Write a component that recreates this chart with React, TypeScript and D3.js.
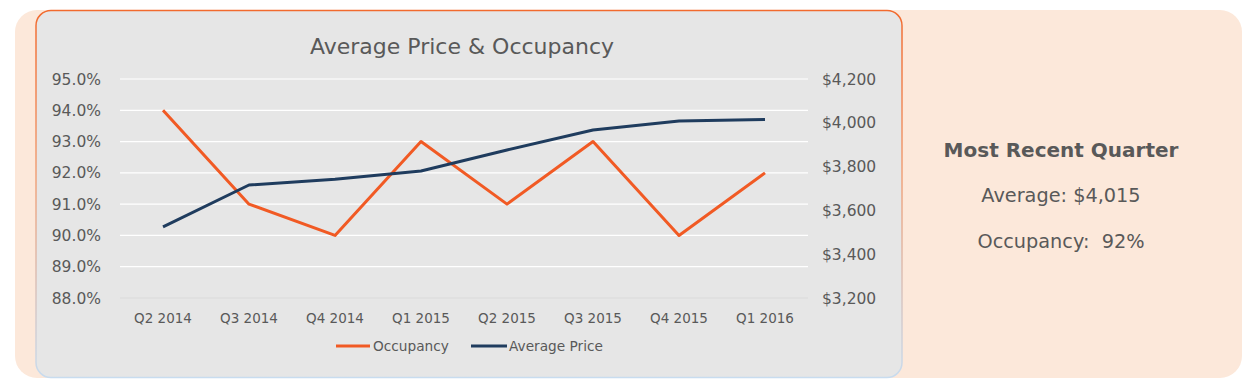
import React from "react";
import * as d3 from "d3";

const quarters = ["Q2 2014", "Q3 2014", "Q4 2014", "Q1 2015", "Q2 2015", "Q3 2015", "Q4 2015", "Q1 2016"];
const occupancy = [94, 91, 90, 93, 91, 93, 90, 92];
const avgPrice = [3525, 3716, 3742, 3780, 3876, 3967, 4008, 4015];
const occTicks = [88, 89, 90, 91, 92, 93, 94, 95];
const priceTicks = [3200, 3400, 3600, 3800, 4000, 4200];

const FONT = "'DejaVu Sans', sans-serif";
const TXT = "#595959";
const ORANGE = "#f15a24";
const NAVY = "#1f3c5e";

export default function App() {
  const left = 120, right = 808, top = 79, bottom = 298;
  const x = d3.scaleBand<string>().domain(quarters).range([left, right]).padding(0);
  const yL = d3.scaleLinear().domain([88, 95]).range([bottom, top]);
  const yR = d3.scaleLinear().domain([3200, 4200]).range([bottom, top]);
  const cx = (q: string) => (x(q) as number) + x.bandwidth() / 2;
  const occLine = d3.line<number>().x((_, i) => cx(quarters[i])).y((d) => yL(d));
  const priceLine = d3.line<number>().x((_, i) => cx(quarters[i])).y((d) => yR(d));

  return (
    <svg width={1260} height={392} style={{ position: "absolute", left: 0, top: 0 }} fontFamily={FONT}>
      <defs>
        <linearGradient id="bord" x1="0" y1="0" x2="0" y2="1">
          <stop offset="0%" stopColor="#f26a2e" />
          <stop offset="45%" stopColor="#f0a27a" />
          <stop offset="100%" stopColor="#c8dcef" />
        </linearGradient>
      </defs>
      <rect x={15} y={10} width={1227} height={368} rx={22} fill="#fce8da" />
      <rect x={36} y={10.5} width={866} height={367} rx={15} fill="#e6e6e6" stroke="url(#bord)" strokeWidth={1.5} />
      <text x={462} y={53.5} textAnchor="middle" fontSize={22} fill={TXT}>Average Price &amp; Occupancy</text>
      {occTicks.map((t) => (
        <g key={t}>
          <line x1={left} x2={right} y1={yL(t)} y2={yL(t)} stroke={t === 88 ? "#d9d9d9" : "#ffffff"} strokeWidth={1.2} />
          <text x={101} y={yL(t) + 5.5} textAnchor="end" fontSize={15.5} fill={TXT}>{t.toFixed(1) + "%"}</text>
        </g>
      ))}
      {priceTicks.map((t) => (
        <text key={t} x={822} y={yR(t) + 5.5} fontSize={15.5} fill={TXT}>{d3.format("$,")(t)}</text>
      ))}
      {quarters.map((q) => (
        <text key={q} x={cx(q)} y={323} textAnchor="middle" fontSize={13.5} fill={TXT}>{q}</text>
      ))}
      <path d={occLine(occupancy) || ""} fill="none" stroke={ORANGE} strokeWidth={3} strokeLinejoin="round" />
      <path d={priceLine(avgPrice) || ""} fill="none" stroke={NAVY} strokeWidth={3} strokeLinejoin="round" />
      <line x1={336} x2={370} y1={346} y2={346} stroke={ORANGE} strokeWidth={3} />
      <text x={373} y={351} fontSize={13.7} fill={TXT}>Occupancy</text>
      <line x1={471} x2={507} y1={346} y2={346} stroke={NAVY} strokeWidth={3} />
      <text x={509} y={351} fontSize={13.7} fill={TXT}>Average Price</text>
      <text x={1061} y={157} textAnchor="middle" fontSize={20} fontWeight="bold" fill={TXT}>Most Recent Quarter</text>
      <text x={1061} y={202} textAnchor="middle" fontSize={19.3} fill={TXT}>Average: $4,015</text>
      <text x={1061} y={248} textAnchor="middle" fontSize={19.3} fill={TXT} style={{ whiteSpace: "pre" }}>{"Occupancy:  92%"}</text>
    </svg>
  );
}
